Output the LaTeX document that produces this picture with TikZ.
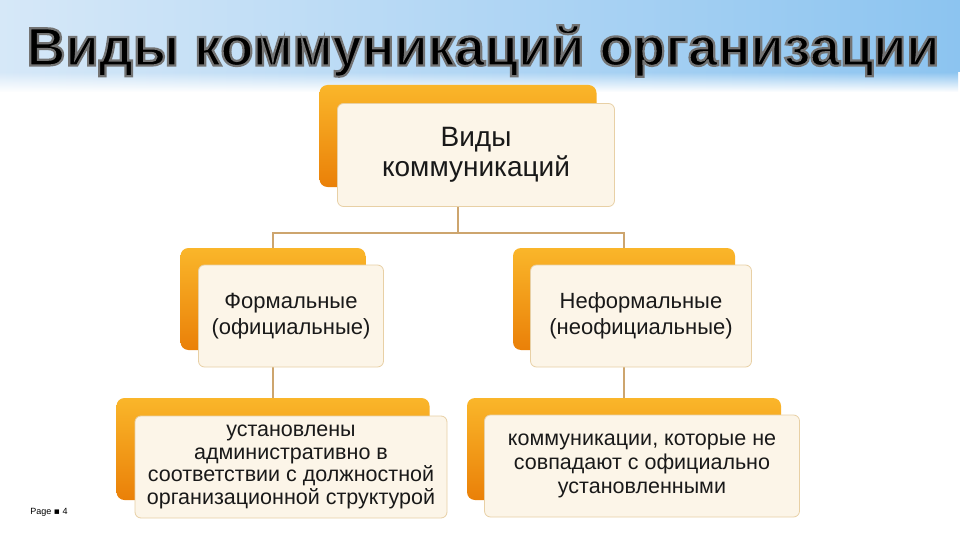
\documentclass[tikz,border=0pt]{standalone}
\usepackage{fontspec}
\setmainfont{Liberation Sans}
\newfontfamily\symfont{DejaVu Sans}
\usetikzlibrary{positioning}
\usetikzlibrary{calc}
\usetikzlibrary{fadings}
\pgfdeclarelayer{bg}
\pgfsetlayers{bg,main}
\definecolor{skyl}{RGB}{214,232,248}
\definecolor{skyr}{RGB}{140,196,240}
\definecolor{orgl}{RGB}{250,182,42}
\definecolor{orgd}{RGB}{234,128,8}
\definecolor{cream}{RGB}{252,245,232}
\definecolor{rim}{RGB}{232,208,165}
\definecolor{linkc}{RGB}{205,165,110}
\definecolor{ink}{RGB}{25,25,25}
\newcommand{\outlined}[1]{\special{pdf:literal direct 2 Tr 2.2 w 0.45 0.45 0.45 RG}#1\special{pdf:literal direct 0 Tr}}

\begin{document}
\begin{tikzpicture}[x=1pt,y=-1pt]
		
		\tikzset{back/.style = {shape=rectangle,rounded corners=8pt,top color=orgl,bottom color=orgd,draw=none}}
		\tikzset{front/.style = {shape=rectangle,rounded corners=6pt,fill=cream,draw=rim,line width=0.8pt,align=center,text=ink}}
		\tikzset{link/.style = {draw=linkc,line width=1.5pt}}
		\useasboundingbox (0,0) rectangle (960,540);
		
		% vertices
		\node[black] (title) at (483,51) {\fontsize{54}{54}\bfseries\selectfont\outlined{Виды коммуникаций организации}};
		
		\node[back, minimum width=277, minimum height=102] (topb) at (458,136) {};
		\node[front, minimum width=277, minimum height=103, font=\fontsize{28}{30}\selectfont] (top) at (476,155) {Виды\\коммуникаций};
		
		\node[back, minimum width=185, minimum height=102] (formb) at (273,299) {};
		\node[front, minimum width=185, minimum height=102, font=\fontsize{22}{26}\selectfont] (form) at (291,316) {Формальные\\(официальные)};
		
		\node[back, minimum width=222, minimum height=102] (infb) at (624,299) {};
		\node[front, minimum width=221, minimum height=102, font=\fontsize{22}{26}\selectfont] (inf) at (641,316) {Неформальные\\(неофициальные)};
		
		\node[back, minimum width=313, minimum height=102] (formdb) at (273,449) {};
		\node[front, minimum width=312, minimum height=102, font=\fontsize{21.5}{22.7}\selectfont] (formd) at (291,467) {установлены\\административно в\\соответствии с должностной\\организационной структурой};
		
		\node[back, minimum width=314, minimum height=102] (infdb) at (624,449) {};
		\node[front, minimum width=315, minimum height=102, font=\fontsize{21.5}{24}\selectfont] (infd) at (642,466) {коммуникации, которые не\\совпадают с официально\\установленными};
		
		\node (page) at (49,512) {\fontsize{9}{9}\selectfont Page {\symfont ▪} 4};
		
		%edges
		\begin{pgfonlayer}{bg}
		\fill[white] (0,0) rectangle (960,540);
		\shade[left color=skyl,right color=skyr] (0,0) rectangle (960,72);
		\shade[left color=skyl,right color=skyr,path fading=south] (0,72) rectangle (960,92);
		\draw[link] (topb.center) -- ($(topb.center)+(0,97)$) -| (formb.center);
		\draw[link] ($(topb.center)+(0,97)$) -| (infb.center);
		\draw[link] (formb.center) -- (formdb.center);
		\draw[link] (infb.center) -- (infdb.center);
		\end{pgfonlayer}
		
		\end{tikzpicture}
\end{document}
